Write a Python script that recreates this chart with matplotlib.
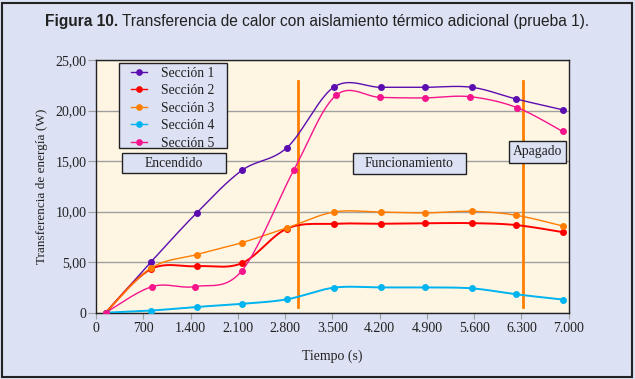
import numpy as np
import matplotlib
matplotlib.use("Agg")
from matplotlib import pyplot as plt
from matplotlib.patches import Rectangle
from matplotlib.ticker import FuncFormatter
from matplotlib.legend_handler import HandlerLine2D

# data
t_main = [140, 810, 1490, 2160, 2830, 3525, 4215, 4877, 5567, 6225, 6915]
t_s5 = [140, 833, 1470, 2157, 2932, 3554, 4210, 4868, 5539, 6236, 6912]

s1 = [0, 5.0, 9.87, 14.08, 16.34, 22.33, 22.3, 22.3, 22.3, 21.14, 20.07]
s2 = [0, 4.31, 4.6, 4.9, 8.33, 8.8, 8.8, 8.85, 8.86, 8.67, 7.97]
s3 = [0, 4.4, 5.75, 6.93, 8.4, 9.96, 9.96, 9.87, 10.03, 9.64, 8.58]
s4 = [0, 0.21, 0.57, 0.88, 1.33, 2.48, 2.5, 2.5, 2.41, 1.82, 1.3]
s5 = [0, 2.59, 2.59, 4.13, 14.15, 21.5, 21.3, 21.25, 21.37, 20.29, 17.93]

names = ["Sección 1", "Sección 2", "Sección 3", "Sección 4", "Sección 5"]
colors = ["#5b0db0", "#ff0000", "#ff7d00", "#00b4f0", "#f5148c"]

phase_lines = [2987, 6320]
phase_labels = ["Encendido", "Funcionamiento", "Apagado"]
# box extents (x0, x1, y0, y1) in data units
phase_boxes = [(379, 1920, 13.82, 15.79), (3801, 5480, 13.75, 15.79), (6121, 6961, 14.83, 16.98)]

x_ticks = [0, 700, 1400, 2100, 2800, 3500, 4200, 4900, 5600, 6300, 7000]
y_ticks = [0, 5, 10, 15, 20, 25]

fig_bg = "#dce1f3"
plot_bg = "#fff5e3"
ink = "#222222"
serif = ["Liberation Serif", "DejaVu Serif"]
fs = 9.5


def smooth(x, y, n=25):
    # excel-like smoothed line (bezier through the points)
    pts = np.column_stack([x, y]).astype(float)
    P = np.vstack([pts[0], pts, pts[-1]])
    out = []
    for i in range(len(pts) - 1):
        p0, p1, p2, p3 = P[i], P[i + 1], P[i + 2], P[i + 3]
        c1 = p1 + (p2 - p0) / 6
        c2 = p2 - (p3 - p1) / 6
        t = np.linspace(0, 1, n)[:, None]
        seg = (1 - t) ** 3 * p1 + 3 * (1 - t) ** 2 * t * c1 + 3 * (1 - t) * t ** 2 * c2 + t ** 3 * p2
        out.append(seg if i == 0 else seg[1:])
    return np.vstack(out)


class ShortLine(HandlerLine2D):
    # legend line shorter than the handle box, set in from the left
    def create_artists(self, legend, orig_handle, xdescent, ydescent, width, height, fontsize, trans):
        return super().create_artists(legend, orig_handle, xdescent - 0.3 * width, ydescent,
                                      0.59 * width, height, fontsize, trans)


fig = plt.figure(figsize=(6.35, 3.79), dpi=100, facecolor=fig_bg)
ax = fig.add_axes([0.1513, 0.1749, 0.7441, 0.6668])
ax.set_facecolor(plot_bg)

series = [(t_main, s1), (t_main, s2), (t_main, s3), (t_main, s4), (t_s5, s5)]
handles = []
for (tx, ys), name, c in zip(series, names, colors):
    curve = smooth(tx, ys)
    lw = 1.4 if c in ("#ff0000", "#00b4f0") else 1.0
    ax.plot(curve[:, 0], curve[:, 1], color=c, lw=lw, zorder=3)
    ax.plot(tx, ys, 'o', color=c, ms=4, zorder=4)
    h, = ax.plot([], [], '-o', color=c, lw=1.0, ms=3.8, label=name)
    handles.append(h)

for xv in phase_lines:
    ax.plot([xv, xv], [0.6, 22.9], color="#ff7d00", lw=2.0, zorder=2)

for label, (x0, x1, y0, y1) in zip(phase_labels, phase_boxes):
    ax.add_patch(Rectangle((x0, y0), x1 - x0, y1 - y0, fc=fig_bg, ec=ink, lw=1.0, zorder=6))
    ax.text((x0 + x1) / 2, (y0 + y1) / 2, label, ha="center", va="center", fontsize=fs + 0.3,
            family=serif, color=ink, zorder=7)

ax.set_xlim(0, 7000)
ax.set_ylim(0, 25)
ax.set_xticks(x_ticks)
ax.set_yticks(y_ticks)
ax.xaxis.set_major_formatter(FuncFormatter(lambda v, p: f"{int(v):,}".replace(",", ".")))
ax.yaxis.set_major_formatter(FuncFormatter(lambda v, p: "0" if v == 0 else f"{v:.2f}".replace(".", ",")))
ax.grid(axis="y", color="#a0a0a0", lw=1.0, zorder=1)
ax.set_axisbelow(True)
ax.tick_params(axis="y", length=6, color="#a0a0a0", pad=1, labelsize=fs + 0.5, labelcolor=ink)
ax.tick_params(axis="x", length=4, color="#a0a0a0", pad=3, labelsize=fs + 0.5, labelcolor=ink)
for lab in ax.get_xticklabels() + ax.get_yticklabels():
    lab.set_family(serif)
for sp in ax.spines.values():
    sp.set_color(ink)
    sp.set_linewidth(1.0)

ax.set_xlabel("Tiempo (s)", family=serif, fontsize=fs + 0.5, color=ink, labelpad=10)
ax.set_ylabel("Transferencia de energía (W)", family=serif, fontsize=fs, color=ink, labelpad=5)

# legend frame drawn by hand, legend text on top of it
ax.add_patch(Rectangle((119.3 / 635, 1 - 148.3 / 379), 107.4 / 635, 85 / 379,
                       transform=fig.transFigure, fc=fig_bg, ec=ink, lw=1.0,
                       zorder=7.5, clip_on=False))
leg = ax.legend(handles=handles, loc="upper left", bbox_to_anchor=(0.0491, 0.987),
                prop={"family": serif, "size": fs + 0.3}, frameon=False,
                handlelength=2.05, handletextpad=0.75, labelspacing=0.33, borderpad=0.24,
                borderaxespad=0, handler_map={h: ShortLine() for h in handles})
leg.set_zorder(8)
for txt in leg.get_texts():
    txt.set_color(ink)

title_font = ["Liberation Sans Narrow", "Liberation Sans", "DejaVu Sans"]
t1 = fig.text(0, 0.943, "Figura 10.", ha="left", va="center", fontsize=11.2,
              family=title_font, weight="bold", color=ink)
t2 = fig.text(0, 0.943, "Transferencia de calor con aislamiento térmico adicional (prueba 1).",
              ha="left", va="center", fontsize=11.2, family=title_font, color=ink)
fig.canvas.draw()
w1 = t1.get_window_extent().width
w2 = t2.get_window_extent().width
W = fig.bbox.width
gap = 4
x_start = 317 - (w1 + gap + w2) / 2
t1.set_x(x_start / W)
t2.set_x((x_start + w1 + gap) / W)

fig.patches.append(Rectangle((0.003, 0.005), 0.993, 0.987, transform=fig.transFigure,
                             fill=False, ec=ink, lw=1.5))

fig.savefig("out.png", dpi=100, facecolor=fig_bg)
